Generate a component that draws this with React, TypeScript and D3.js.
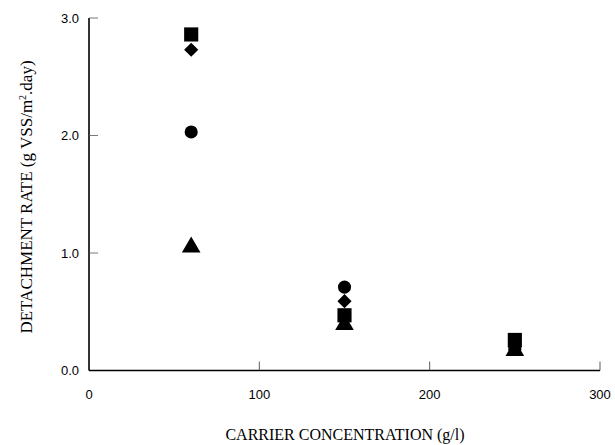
import React from "react";
import * as d3 from "d3";

// carrier concentration (g/l)
const concentrations = [60, 150, 250];

// detachment rate series, one per marker
const squareVals = [2.86, 0.47, 0.26];
const diamondVals = [2.73, 0.59, 0.2];
const circleVals = [2.03, 0.71, 0.18];
const triangleVals = [1.05, 0.39, 0.17];

const xTicks = [0, 100, 200, 300];
const yTicks = [0, 1, 2, 3];

const W = 615;
const H = 445;

const x = d3.scaleLinear().domain([0, 300]).range([89, 600]);
const y = d3.scaleLinear().domain([0, 3]).range([370.5, 18]);

const series = [
  { name: "triangle", vals: triangleVals, type: d3.symbolTriangle, size: 150, rot: 0 },
  { name: "circle", vals: circleVals, type: d3.symbolCircle, size: 135, rot: 0 },
  { name: "diamond", vals: diamondVals, type: d3.symbolSquare, size: 100, rot: 45 },
  { name: "square", vals: squareVals, type: d3.symbolSquare, size: 200, rot: 0 },
];

const sans = "'Liberation Sans', Arial, sans-serif";
const serif = "'Liberation Serif', 'Times New Roman', serif";

export default function App() {
  return (
    <svg
      width={W}
      height={H}
      style={{ position: "absolute", left: 0, top: 0, background: "#fff" }}
    >
      {/* axes */}
      <line x1={x(0)} x2={x(0)} y1={y(3)} y2={y(0)} stroke="#000" strokeWidth={1.6} />
      <line x1={x(0)} x2={x(300)} y1={y(0)} y2={y(0)} stroke="#000" strokeWidth={1.6} />

      {yTicks.map((t) => (
        <g key={"y" + t}>
          {t > 0 && (
            <line x1={x(0)} x2={x(0) + 9} y1={y(t)} y2={y(t)} stroke="#555" strokeWidth={0.8} />
          )}
          <text
            x={79}
            y={y(t)}
            dy="0.35em"
            textAnchor="end"
            fontFamily={sans}
            fontSize={13}
          >
            {d3.format(".1f")(t)}
          </text>
        </g>
      ))}

      {xTicks.map((t) => (
        <g key={"x" + t}>
          {t > 0 && (
            <line x1={x(t)} x2={x(t)} y1={y(0)} y2={y(0) - 9} stroke="#333" strokeWidth={0.8} />
          )}
          <text
            x={x(t)}
            y={394}
            dy="0.35em"
            textAnchor="middle"
            fontFamily={sans}
            fontSize={13}
          >
            {t}
          </text>
        </g>
      ))}

      {/* markers */}
      {series.map((s) =>
        s.vals.map((v, i) => (
          <path
            key={s.name + i}
            d={d3.symbol().type(s.type).size(s.size)() as string}
            transform={`translate(${x(concentrations[i])},${y(v)}) rotate(${s.rot})`}
            fill="#000"
          />
        ))
      )}

      {/* axis titles */}
      <text
        x={345}
        y={440}
        textAnchor="middle"
        fontFamily={serif}
        fontSize={16}
      >
        CARRIER CONCENTRATION (g/l)
      </text>
      <text
        transform="translate(32,197) rotate(-90)"
        textAnchor="middle"
        fontFamily={serif}
        fontSize={17}
      >
        DETACHMENT RATE (g VSS/m
        <tspan dy={-6} fontSize={10}>2</tspan>
        <tspan dy={6}>.day)</tspan>
      </text>
    </svg>
  );
}
